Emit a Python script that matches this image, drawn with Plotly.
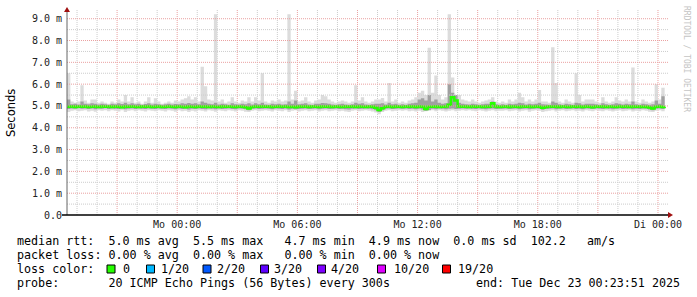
import plotly.graph_objects as go
import pandas as pd

# ---------------- data ----------------
start = pd.Timestamp("2025-12-21 18:30")
times = pd.date_range(start, periods=180, freq="10min")

smoke_max = [
 6.5, 5.2, 5.15, 5.2, 5.95, 5.25, 5.15, 5.3, 5.3, 5.15,
 5.2, 5.15, 5.1, 5.2, 5.15, 5.3, 5.2, 5.5, 5.2, 5.4,
 5.15, 5.2, 5.1, 5.2, 5.4, 5.15, 5.35, 5.2, 5.1, 5.15,
 5.2, 5.15, 5.25, 5.2, 5.3, 5.35, 5.45, 5.3, 5.4, 5.2,
 6.8, 5.9, 5.3, 5.25, 9.2, 5.2, 5.3, 5.15, 5.2, 5.4,
 5.2, 5.15, 5.25, 5.2, 5.4, 5.2, 5.4, 5.25, 6.5, 5.2,
 5.15, 5.25, 5.2, 5.3, 5.2, 5.25, 9.2, 5.3, 5.7, 5.2,
 5.25, 5.4, 5.2, 5.15, 5.25, 5.3, 5.5, 5.45, 5.3, 5.2,
 5.15, 5.2, 5.25, 5.2, 5.15, 5.2, 5.95, 5.25, 5.4, 5.2,
 5.15, 5.2, 5.3, 5.3, 5.37, 5.2, 6.05, 5.2, 5.3, 5.15,
 5.2, 5.15, 5.25, 5.3, 5.4, 5.6, 5.7, 5.5, 7.67, 5.6,
 6.4, 5.5, 5.3, 5.4, 9.2, 6.3, 5.4, 5.5, 5.3, 5.25,
 5.2, 5.3, 5.2, 5.15, 5.2, 5.25, 5.3, 5.4, 5.2, 5.15,
 5.2, 5.15, 5.3, 5.2, 5.3, 5.6, 5.4, 5.2, 5.3, 5.2,
 5.3, 5.73, 5.2, 5.2, 5.15, 7.69, 6.05, 5.2, 5.15, 5.3,
 5.2, 5.15, 6.5, 5.5, 5.2, 5.3, 5.3, 5.3, 5.2, 5.15,
 5.4, 5.2, 5.15, 5.2, 5.4, 5.25, 5.2, 5.3, 5.2, 6.76,
 5.2, 5.15, 5.3, 5.2, 5.15, 5.2, 6.0, 5.3, 5.83, 5.65,
]

smoke_min = [
 4.72, 4.78, 4.8, 4.76, 4.78, 4.8, 4.75, 4.78, 4.74, 4.8,
 4.78, 4.8, 4.76, 4.8, 4.78, 4.75, 4.8, 4.72, 4.78, 4.8,
 4.76, 4.8, 4.78, 4.75, 4.8, 4.78, 4.76, 4.8, 4.78, 4.75,
 4.8, 4.78, 4.74, 4.8, 4.76, 4.78, 4.72, 4.78, 4.75, 4.8,
 4.78, 4.75, 4.8, 4.78, 4.74, 4.8, 4.78, 4.76, 4.8, 4.78,
 4.75, 4.8, 4.78, 4.74, 4.72, 4.78, 4.8, 4.76, 4.78, 4.8,
 4.78, 4.75, 4.8, 4.78, 4.76, 4.8, 4.72, 4.78, 4.8, 4.75,
 4.78, 4.8, 4.76, 4.78, 4.8, 4.75, 4.78, 4.8, 4.76, 4.78,
 4.8, 4.76, 4.78, 4.75, 4.72, 4.78, 4.8, 4.76, 4.78, 4.8,
 4.78, 4.75, 4.7, 4.62, 4.72, 4.78, 4.8, 4.76, 4.78, 4.8,
 4.78, 4.8, 4.76, 4.78, 4.75, 4.78, 4.72, 4.76, 4.78, 4.8,
 4.76, 4.8, 4.78, 4.75, 4.78, 4.8, 4.76, 4.78, 4.8, 4.78,
 4.8, 4.78, 4.76, 4.8, 4.78, 4.75, 4.78, 4.8, 4.76, 4.78,
 4.78, 4.8, 4.76, 4.78, 4.8, 4.75, 4.78, 4.8, 4.74, 4.78,
 4.8, 4.78, 4.72, 4.76, 4.78, 4.8, 4.75, 4.78, 4.8, 4.76,
 4.78, 4.8, 4.76, 4.78, 4.75, 4.8, 4.78, 4.76, 4.8, 4.78,
 4.76, 4.8, 4.78, 4.75, 4.78, 4.8, 4.76, 4.78, 4.8, 4.75,
 4.78, 4.76, 4.8, 4.78, 4.74, 4.72, 4.78, 4.8, 4.76, 4.78,
]

mid_hi = [
 5.3, 5.08, 5.1, 5.07, 5.2, 5.1, 5.08, 5.12, 5.1, 5.07,
 5.1, 5.08, 5.06, 5.1, 5.08, 5.12, 5.09, 5.15, 5.08, 5.12,
 5.08, 5.1, 5.06, 5.09, 5.12, 5.07, 5.1, 5.08, 5.06, 5.08,
 5.1, 5.07, 5.09, 5.08, 5.12, 5.1, 5.14, 5.1, 5.12, 5.08,
 5.2, 5.15, 5.1, 5.08, 5.15, 5.07, 5.1, 5.08, 5.06, 5.12,
 5.08, 5.07, 5.1, 5.08, 5.12, 5.07, 5.12, 5.08, 5.15, 5.07,
 5.06, 5.1, 5.08, 5.1, 5.07, 5.08, 5.2, 5.1, 5.25, 5.08,
 5.1, 5.12, 5.07, 5.06, 5.1, 5.1, 5.14, 5.12, 5.1, 5.07,
 5.06, 5.08, 5.1, 5.07, 5.06, 5.08, 5.15, 5.1, 5.12, 5.07,
 5.06, 5.08, 5.1, 5.1, 5.12, 5.07, 5.15, 5.08, 5.1, 5.06,
 5.08, 5.06, 5.1, 5.12, 5.15, 5.3, 5.35, 5.25, 5.5, 5.2,
 5.3, 5.15, 5.1, 5.12, 6.0, 5.6, 5.5, 5.15, 5.1, 5.08,
 5.07, 5.1, 5.08, 5.06, 5.08, 5.1, 5.1, 5.2, 5.08, 5.06,
 5.08, 5.06, 5.1, 5.08, 5.1, 5.15, 5.12, 5.07, 5.1, 5.08,
 5.1, 5.15, 5.08, 5.07, 5.06, 5.2, 5.15, 5.08, 5.06, 5.1,
 5.08, 5.06, 5.15, 5.12, 5.07, 5.1, 5.1, 5.1, 5.08, 5.06,
 5.12, 5.08, 5.06, 5.08, 5.12, 5.1, 5.07, 5.1, 5.08, 5.2,
 5.08, 5.06, 5.1, 5.08, 5.06, 5.08, 5.25, 5.1, 5.45, 5.35,
]

mid_lo = [
 4.86, 4.88, 4.87, 4.89, 4.87, 4.88, 4.86, 4.88, 4.85, 4.88,
 4.87, 4.89, 4.86, 4.88, 4.87, 4.86, 4.88, 4.85, 4.87, 4.88,
 4.86, 4.88, 4.87, 4.86, 4.88, 4.87, 4.86, 4.88, 4.87, 4.86,
 4.88, 4.87, 4.85, 4.88, 4.86, 4.87, 4.84, 4.87, 4.86, 4.88,
 4.86, 4.85, 4.88, 4.87, 4.85, 4.88, 4.86, 4.87, 4.88, 4.86,
 4.85, 4.88, 4.87, 4.85, 4.8, 4.87, 4.88, 4.86, 4.87, 4.88,
 4.87, 4.85, 4.88, 4.87, 4.86, 4.88, 4.84, 4.87, 4.85, 4.86,
 4.87, 4.88, 4.86, 4.87, 4.88, 4.85, 4.87, 4.88, 4.86, 4.87,
 4.88, 4.86, 4.87, 4.85, 4.84, 4.87, 4.88, 4.86, 4.87, 4.88,
 4.87, 4.85, 4.8, 4.72, 4.8, 4.87, 4.88, 4.86, 4.87, 4.88,
 4.87, 4.88, 4.86, 4.87, 4.85, 4.87, 4.84, 4.78, 4.82, 4.87,
 4.85, 4.88, 4.87, 4.85, 4.87, 4.88, 4.86, 4.87, 4.88, 4.87,
 4.88, 4.87, 4.86, 4.88, 4.87, 4.85, 4.87, 4.88, 4.86, 4.87,
 4.87, 4.88, 4.86, 4.87, 4.88, 4.85, 4.87, 4.88, 4.85, 4.87,
 4.88, 4.87, 4.83, 4.86, 4.87, 4.88, 4.85, 4.87, 4.88, 4.86,
 4.87, 4.88, 4.86, 4.87, 4.85, 4.88, 4.87, 4.86, 4.88, 4.87,
 4.86, 4.88, 4.87, 4.85, 4.87, 4.88, 4.86, 4.87, 4.88, 4.85,
 4.87, 4.86, 4.88, 4.87, 4.84, 4.8, 4.87, 4.88, 4.86, 4.87,
]

median = [
 4.96, 4.97, 4.95, 4.98, 4.96, 4.97, 4.95, 4.96, 4.98, 4.95,
 4.97, 4.96, 4.98, 4.95, 4.97, 4.96, 4.94, 4.97, 4.96, 4.98,
 4.96, 4.95, 4.97, 4.96, 4.98, 4.95, 4.96, 4.97, 4.95, 4.96,
 4.97, 4.96, 4.95, 4.98, 4.96, 4.94, 4.97, 4.96, 4.95, 4.97,
 4.96, 4.98, 4.95, 4.97, 4.96, 4.95, 4.97, 4.96, 4.98, 4.96,
 4.95, 4.97, 4.96, 4.94, 4.88, 4.95, 4.97, 4.96, 4.98, 4.96,
 4.97, 4.95, 4.96, 4.98, 4.96, 4.97, 4.95, 4.96, 4.94, 4.97,
 4.96, 4.98, 4.95, 4.97, 4.96, 4.95, 4.97, 4.96, 4.98, 4.95,
 4.97, 4.96, 4.95, 4.97, 4.96, 4.98, 4.95, 4.97, 4.96, 4.95,
 4.97, 4.96, 4.92, 4.82, 4.9, 4.96, 4.97, 4.95, 4.98, 4.96,
 4.95, 4.97, 4.96, 4.98, 4.95, 4.97, 4.96, 4.86, 4.96, 4.96,
 4.97, 4.95, 4.96, 4.97, 5.05, 5.4, 5.25, 4.97, 4.96, 4.98,
 4.95, 4.97, 4.96, 4.98, 4.95, 4.97, 4.96, 5.12, 4.97, 4.95,
 4.96, 4.98, 4.95, 4.97, 4.96, 4.95, 4.97, 4.96, 4.98, 4.95,
 4.97, 4.96, 4.92, 4.95, 4.97, 4.96, 4.98, 4.95, 4.97, 4.96,
 4.95, 4.97, 4.96, 4.98, 4.95, 4.97, 4.96, 4.94, 4.97, 4.96,
 4.98, 4.95, 4.97, 4.96, 4.95, 4.97, 4.96, 4.98, 4.95, 4.97,
 4.96, 4.97, 4.95, 4.96, 4.93, 4.88, 4.96, 4.97, 4.95, 4.96,
]

y_tickvals = [0, 1, 2, 3, 4, 5, 6, 7, 8, 9]
y_ticktext = ["0.0", "1.0 m", "2.0 m", "3.0 m", "4.0 m", "5.0 m",
              "6.0 m", "7.0 m", "8.0 m", "9.0 m"]
y_minorvals = [0.5, 1.5, 2.5, 3.5, 4.5, 5.5, 6.5, 7.5, 8.5]

x_tickvals = ["2025-12-21 21:00", "2025-12-22 00:00", "2025-12-22 03:00",
              "2025-12-22 06:00", "2025-12-22 09:00", "2025-12-22 12:00",
              "2025-12-22 15:00", "2025-12-22 18:00", "2025-12-22 21:00",
              "2025-12-23 00:00"]
x_ticktext = ["", "Mo 00:00", "", "Mo 06:00", "", "Mo 12:00", "",
              "Mo 18:00", "", "Di 00:00"]
x_minorvals = pd.date_range("2025-12-21 19:00", "2025-12-23 00:00", freq="1h")
x_range = ["2025-12-21 18:30", "2025-12-23 00:30"]

loss_labels = ["0", "1/20", "2/20", "3/20", "4/20", "10/20", "19/20"]
loss_colors = ["#26ff00", "#00b8ff", "#0059ff", "#5e00ff", "#7e00ff",
               "#dd00ff", "#ff0000"]

stats_rtt = "median rtt:  5.0 ms avg  5.5 ms max   4.7 ms min  4.9 ms now  0.0 ms sd  102.2   am/s"
stats_loss = "packet loss: 0.00 % avg  0.00 % max   0.00 % min  0.00 % now"
probe_text = "probe:       20 ICMP Echo Pings (56 Bytes) every 300s"
end_text = "end: Tue Dec 23 00:23:51 2025"

# ---------------- figure ----------------
W, H = 697, 297
L, R, T, B = 67, 668, 10, 215


def px(x):
    return (x - L) / (R - L)


def py(y):
    return (B - y) / (B - T)


def nb(s):
    return s.replace(" ", "\u00a0")


MONO = "DejaVu Sans Mono"
red_grid = "#eaa0a0"
gray_grid = "#cccccc"
DASH = "1px,1px"

fig = go.Figure()

shapes = []
for v in x_minorvals:
    if v.hour % 3 != 0:
        shapes.append(dict(type="line", xref="x", yref="paper", x0=v, x1=v, y0=0, y1=1,
                           layer="below", line=dict(color=gray_grid, width=1, dash=DASH)))
for v in x_tickvals:
    shapes.append(dict(type="line", xref="x", yref="paper", x0=v, x1=v, y0=0, y1=1,
                       layer="below", line=dict(color=red_grid, width=1, dash=DASH)))
for v in y_minorvals:
    shapes.append(dict(type="line", xref="paper", yref="y", x0=0, x1=1, y0=v, y1=v,
                       layer="above", line=dict(color=gray_grid, width=1, dash=DASH)))
for v in y_tickvals[1:]:
    shapes.append(dict(type="line", xref="paper", yref="y", x0=0, x1=1, y0=v, y1=v,
                       layer="above", line=dict(color=red_grid, width=1, dash=DASH)))

fig.add_trace(go.Scatter(x=times, y=smoke_min, mode="lines", line=dict(width=0, shape="hv"),
                         showlegend=False, hoverinfo="skip"))
fig.add_trace(go.Scatter(x=times, y=smoke_max, mode="lines", line=dict(width=0, shape="hv"),
                         fill="tonexty", fillcolor="#dcdcdc", showlegend=False, hoverinfo="skip"))
fig.add_trace(go.Scatter(x=times, y=mid_lo, mode="lines", line=dict(width=0, shape="hv"),
                         showlegend=False, hoverinfo="skip"))
fig.add_trace(go.Scatter(x=times, y=mid_hi, mode="lines", line=dict(width=0, shape="hv"),
                         fill="tonexty", fillcolor="#a0a0a0", showlegend=False, hoverinfo="skip"))
fig.add_trace(go.Scatter(x=times, y=median, mode="lines",
                         line=dict(width=2.5, shape="hv", color=loss_colors[0]),
                         showlegend=False, hoverinfo="skip"))

fig.update_xaxes(
    type="date", range=x_range,
    tickmode="array", tickvals=x_tickvals, ticktext=x_ticktext,
    showgrid=False, showline=False, zeroline=False, ticks="",
    ticklabelstandoff=2,
    tickfont=dict(family=MONO, size=10, color="#222"),
)
fig.update_yaxes(
    range=[0, 9.4],
    tickmode="array", tickvals=y_tickvals, ticktext=y_ticktext,
    showgrid=False, showline=False, zeroline=False, ticks="",
    ticklabelstandoff=4,
    tickfont=dict(family=MONO, size=10, color="#222"),
)

# axis lines
shapes.append(dict(type="line", xref="paper", yref="paper", x0=px(67), x1=px(67),
                   y0=py(215), y1=py(9), line=dict(color="#666", width=1)))
shapes.append(dict(type="line", xref="paper", yref="paper", x0=px(62), x1=px(668),
                   y0=py(215), y1=py(215), line=dict(color="#000", width=1.5)))
shapes.append(dict(type="path", xref="paper", yref="paper",
                   path=f"M {px(64)} {py(12)} L {px(70)} {py(12)} L {px(67)} {py(7)} Z",
                   fillcolor="#a01010", line=dict(width=0)))
shapes.append(dict(type="path", xref="paper", yref="paper",
                   path=f"M {px(668)} {py(212)} L {px(668)} {py(218)} L {px(673)} {py(215)} Z",
                   fillcolor="#a01010", line=dict(width=0)))

annotations = []


def text(x, y, s, size=11.7, color="#000", family=MONO, xanchor="left", angle=0):
    annotations.append(dict(x=px(x), y=py(y), xref="paper", yref="paper", text=nb(s),
                            showarrow=False, xanchor=xanchor, yanchor="middle",
                            textangle=angle, borderpad=0,
                            font=dict(family=family, size=size, color=color)))


text(16, 241, stats_rtt)
text(16, 255, stats_loss)
text(16, 269, "loss color:")
text(16, 283, probe_text)
text(681, 283, end_text, xanchor="right")

box_x = [107, 146.5, 203, 260.5, 317.5, 377.5, 442.5]
lab_x = [122, 160, 216, 273, 330, 392.5, 457]
for bx, lx, lab, col in zip(box_x, lab_x, loss_labels, loss_colors):
    shapes.append(dict(type="rect", xref="paper", yref="paper",
                       x0=px(bx), x1=px(bx + 8), y0=py(273), y1=py(265),
                       fillcolor=col, line=dict(color="#000", width=1)))
    text(lx, 269, lab)

annotations.append(dict(x=px(11), y=py(113), xref="paper", yref="paper", text="Seconds",
                        showarrow=False, textangle=-90, xanchor="center", yanchor="middle",
                        font=dict(family="DejaVu Sans", size=11.5, color="#000")))
annotations.append(dict(x=px(687), y=py(59), xref="paper", yref="paper",
                        text=nb("RRDTOOL / TOBI OETIKER"),
                        showarrow=False, textangle=90, xanchor="center", yanchor="middle",
                        font=dict(family=MONO, size=8, color="#c4c4c4")))

fig.update_layout(
    width=W, height=H,
    margin=dict(l=L, r=W - R, t=T, b=H - B),
    paper_bgcolor="white", plot_bgcolor="white",
    showlegend=False,
    shapes=shapes, annotations=annotations,
)

fig.write_html("out.html")
